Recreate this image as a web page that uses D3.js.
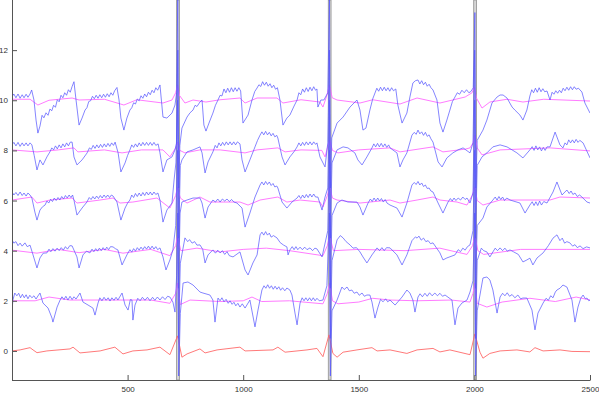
<!doctype html>
<html>
<head>
<meta charset="utf-8">
<script src="https://cdn.jsdelivr.net/npm/d3@7/dist/d3.min.js"></script>
<style>
  body { margin: 0; background: #fff; }
  text { font-family: "Liberation Sans", Arial, sans-serif; }
</style>
</head>
<body>
<svg width="599" height="393"></svg>
<script>
// tick labels
var xTicks = [500, 1000, 1500, 2000, 2500];
var yTicks = [0, 2, 4, 6, 8, 10, 12];

// beat markers (sample ranges of the grey bands)
var beatBands = [[712, 724], [1368, 1380], [1997, 2009]];

// channel offsets
var offsets = [10, 8, 6, 4, 2];

// blue channels: [sample, value relative to offset]
var blue10 = [[0,0.14],[8,0.25],[17,0.1],[26,0.25],[35,0.08],[44,0.22],[52,0.1],[61,0.24],[69,0.12],[78,0.25],[85,0.41],[95,0.01],[104,-0.79],[112,-1.31],[121,-1.03],[130,-0.6],[138,-0.7],[147,-0.5],[156,-0.6],[164,-0.35],[172,-0.42],[180,-0.2],[188,-0.28],[196,0.02],[204,-0.06],[212,0.2],[220,0.1],[228,0.3],[236,0.2],[244,0.42],[252,0.32],[260,0.55],[268,0.74],[277,0.01],[290,-0.99],[303,-0.71],[316,-0.39],[324,-0.3],[332,-0.05],[340,-0.02],[348,0.16],[356,0.06],[364,0.2],[372,0.08],[380,0.22],[388,0.1],[396,0.24],[404,0.12],[412,0.26],[420,0.14],[428,0.3],[436,0.2],[444,0.38],[454,0.51],[463,0.01],[471,-0.71],[484,-1.19],[497,-0.71],[510,-0.39],[518,-0.3],[526,-0.1],[534,-0.15],[542,0.05],[550,-0.02],[558,0.18],[566,0.08],[574,0.25],[582,0.14],[590,0.32],[598,0.22],[606,0.4],[614,0.3],[622,0.5],[630,0.4],[640,0.61],[653,-0.67],[670,-0.71],[692,-0.51],[705,-0.19],
  [712,0.3],[717,4.1],[721,-3.5],[726,-1.8],
  [735,-1.11],[757,-0.67],[770,-0.5],[783,-0.39],[792,-0.2],[800,-0.25],[813,-0.07],[822,0.01],[830,-0.99],[839,-1.23],[852,-0.91],[869,-0.51],[880,-0.2],[891,0.01],[900,0.2],[908,0.17],[917,0.45],[925,0.3],[933,0.48],[941,0.32],[949,0.5],[957,0.34],[965,0.5],[973,0.36],[981,0.5],[989,0.37],[999,-0.91],[1021,-0.59],[1038,0.01],[1050,0.35],[1060,0.49],[1068,0.62],[1076,0.55],[1084,0.74],[1092,0.6],[1100,0.72],[1108,0.56],[1116,0.66],[1124,0.5],[1132,0.6],[1140,0.44],[1148,0.5],[1159,0.01],[1172,-0.99],[1189,-0.71],[1202,-0.59],[1220,-0.23],[1233,0.01],[1241,0.3],[1249,0.22],[1257,0.45],[1265,0.32],[1273,0.5],[1281,0.35],[1289,0.52],[1297,0.38],[1305,0.54],[1313,0.4],[1319,0.45],[1323,-0.27],[1336,0.01],[1349,0.01],
  [1366,0.3],[1373,4.0],[1377,-3.5],[1383,-1.5],
  [1406,-0.91],[1432,-0.67],[1462,-0.27],[1492,0.01],[1505,-0.39],[1518,-1.19],[1531,-1.11],[1548,-0.39],[1560,0.05],[1570,0.29],[1578,0.48],[1586,0.36],[1594,0.52],[1602,0.38],[1610,0.52],[1618,0.38],[1626,0.5],[1634,0.36],[1642,0.5],[1650,0.38],[1660,0.45],[1669,-0.19],[1687,-0.91],[1708,-0.51],[1721,0.13],[1734,0.69],[1745,0.78],[1756,0.81],[1764,0.65],[1772,0.78],[1780,0.62],[1788,0.72],[1796,0.56],[1804,0.64],[1812,0.5],[1821,0.41],[1838,0.01],[1851,-0.91],[1864,-1.27],[1881,-0.79],[1894,-0.39],[1905,-0.05],[1916,0.13],[1926,0.3],[1936,0.24],[1946,0.4],[1956,0.3],[1966,0.42],[1976,0.3],[1985,0.35],
  [1995,0.5],[2002,3.5],[2006,-3.5],[2012,-1.6],
  [2037,-1.19],[2054,-0.79],[2076,-0.11],[2098,0.13],[2111,0.21],[2124,0.21],[2141,0.09],[2163,-0.27],[2175,-0.39],[2197,-0.59],[2210,-0.79],[2227,-0.39],[2240,0.17],[2248,0.42],[2256,0.3],[2264,0.48],[2272,0.32],[2280,0.5],[2288,0.34],[2296,0.46],[2304,0.34],[2314,0.37],[2327,0.01],[2336,0.32],[2344,0.24],[2352,0.38],[2360,0.28],[2368,0.4],[2376,0.3],[2384,0.48],[2392,0.38],[2400,0.52],[2408,0.4],[2416,0.54],[2424,0.42],[2432,0.54],[2440,0.44],[2450,0.48],[2465,0.33],[2478,-0.11],[2500,-0.51]];

var blue8 = [[0,0.22],[8,0.32],[17,0.18],[26,0.32],[35,0.16],[44,0.3],[52,0.18],[61,0.3],[69,0.18],[78,0.3],[86,0.22],[96,-0.2],[108,-0.78],[121,-0.38],[134,-0.58],[151,-0.26],[164,-0.06],[172,0.1],[180,0.02],[188,0.18],[196,0.06],[204,0.22],[212,0.1],[220,0.26],[228,0.14],[236,0.3],[244,0.18],[252,0.33],[260,0.33],[268,-0.26],[281,-0.58],[303,-0.38],[325,-0.10],[335,0.1],[343,0.04],[351,0.2],[359,0.08],[367,0.22],[375,0.1],[383,0.24],[391,0.12],[399,0.26],[407,0.14],[415,0.28],[423,0.16],[431,0.3],[439,0.2],[446,0.33],[459,-0.10],[471,-0.86],[489,-0.50],[500,-0.2],[510,0.02],[518,0.22],[526,0.12],[534,0.26],[542,0.14],[550,0.3],[558,0.18],[566,0.32],[574,0.2],[582,0.32],[590,0.2],[598,0.32],[606,0.2],[614,0.32],[622,0.2],[632,0.26],[640,-0.10],[653,-0.86],[670,-0.38],[692,-0.26],[705,0.02],
  [712,0.3],[717,4.0],[721,-3.5],[728,-0.6],
  [735,-0.38],[757,-0.06],[783,0.02],[813,0.14],[822,-0.10],[835,-0.90],[848,-0.46],[869,-0.06],[879,0.2],[887,0.1],[895,0.3],[903,0.18],[911,0.32],[919,0.2],[927,0.34],[935,0.22],[943,0.34],[951,0.22],[959,0.34],[967,0.22],[975,0.34],[986,0.26],[995,-0.38],[1008,-0.86],[1029,-0.38],[1051,0.14],[1062,0.4],[1073,0.61],[1081,0.74],[1089,0.62],[1097,0.76],[1105,0.62],[1113,0.72],[1121,0.58],[1129,0.68],[1137,0.54],[1145,0.6],[1150,0.49],[1168,-0.26],[1181,-0.58],[1202,-0.26],[1220,-0.05],[1233,0.14],[1241,0.3],[1249,0.18],[1257,0.32],[1265,0.2],[1273,0.34],[1281,0.22],[1289,0.34],[1297,0.22],[1305,0.34],[1313,0.24],[1319,0.30],[1332,-0.26],[1354,-0.66],
  [1366,0.3],[1373,4.0],[1377,-3.5],[1384,-0.5],
  [1406,0.02],[1432,0.14],[1453,0.10],[1483,-0.10],[1496,-0.38],[1514,-0.58],[1535,-0.26],[1557,0.10],[1565,0.26],[1573,0.14],[1581,0.28],[1589,0.14],[1597,0.28],[1605,0.14],[1613,0.26],[1621,0.12],[1629,0.22],[1635,0.10],[1665,-0.10],[1678,-0.66],[1691,-0.38],[1708,-0.10],[1730,0.61],[1740,0.72],[1748,0.64],[1756,0.81],[1764,0.66],[1772,0.74],[1780,0.6],[1788,0.72],[1796,0.56],[1804,0.62],[1812,0.46],[1821,0.33],[1843,-0.46],[1860,-0.66],[1881,-0.30],[1907,-0.10],[1929,0.02],[1951,0.10],[1981,-0.10],
  [1994,0.3],[2001,4.0],[2005,-3.5],[2012,-0.6],
  [2033,-0.26],[2054,-0.10],[2080,0.14],[2111,0.22],[2141,0.14],[2163,0.02],[2184,-0.10],[2210,-0.30],[2240,0.02],[2250,0.15],[2258,0.0],[2266,0.18],[2274,0.02],[2282,0.14],[2290,-0.02],[2298,0.12],[2306,0.0],[2314,0.14],[2327,0.14],[2349,0.73],[2370,0.22],[2383,0.10],[2392,0.3],[2400,0.22],[2408,0.42],[2416,0.3],[2424,0.42],[2432,0.3],[2440,0.44],[2448,0.32],[2456,0.4],[2470,0.30],[2500,-0.30]];

var blue6 = [[0,0.35],[8,0.22],[17,0.32],[26,0.2],[35,0.34],[44,0.2],[52,0.3],[61,0.18],[69,0.3],[78,0.22],[86,0.10],[99,-0.46],[108,-0.78],[121,-0.38],[132,-0.25],[143,-0.18],[151,-0.02],[159,-0.1],[167,0.05],[175,-0.04],[183,0.1],[191,0.0],[199,0.12],[207,0.02],[215,0.16],[223,0.06],[231,0.2],[239,0.1],[247,0.22],[255,0.12],[262,0.22],[268,0.02],[281,-0.58],[303,-0.30],[324,-0.06],[334,0.12],[342,0.04],[350,0.16],[358,0.06],[366,0.18],[374,0.08],[382,0.2],[390,0.1],[398,0.22],[406,0.12],[414,0.22],[422,0.12],[430,0.22],[437,0.18],[454,-0.06],[471,-0.78],[489,-0.30],[500,-0.1],[510,0.02],[518,0.22],[526,0.12],[534,0.28],[542,0.16],[550,0.3],[558,0.18],[566,0.32],[574,0.2],[582,0.34],[590,0.22],[598,0.34],[606,0.22],[614,0.34],[622,0.24],[631,0.30],[640,0.02],[653,-0.86],[670,-0.38],[692,-0.10],[701,0.82],
  [709,1.5],[716,4.0],[720,-3.5],[727,-0.5],
  [735,-0.06],[757,0.02],[783,0.10],[813,0.10],[822,-0.10],[835,-0.70],[848,-0.26],[869,0.02],[880,-0.06],[890,0.06],[900,-0.06],[910,0.06],[920,-0.02],[930,0.06],[940,-0.04],[950,0.04],[960,-0.06],[973,-0.10],[995,-0.30],[1008,-1.06],[1029,-0.50],[1051,0.14],[1073,0.62],[1081,0.74],[1089,0.62],[1097,0.76],[1105,0.64],[1113,0.74],[1121,0.6],[1129,0.68],[1137,0.54],[1145,0.58],[1150,0.50],[1168,-0.06],[1189,-0.30],[1211,-0.06],[1233,0.10],[1241,0.2],[1249,0.08],[1257,0.22],[1265,0.1],[1273,0.24],[1281,0.12],[1289,0.26],[1297,0.14],[1305,0.26],[1313,0.14],[1323,0.14],[1341,-0.38],[1354,0.14],
  [1366,0.5],[1373,4.0],[1377,-3.5],[1384,-0.6],
  [1406,-0.10],[1427,0.02],[1453,-0.06],[1492,-0.06],[1505,-0.26],[1518,-0.58],[1540,-0.10],[1550,0.06],[1558,-0.04],[1566,0.1],[1574,-0.02],[1582,0.1],[1590,-0.02],[1598,0.08],[1606,-0.06],[1614,0.04],[1622,-0.1],[1635,-0.18],[1665,-0.30],[1687,-0.66],[1708,-0.10],[1730,0.62],[1740,0.72],[1748,0.64],[1756,0.76],[1764,0.62],[1772,0.7],[1780,0.56],[1788,0.62],[1796,0.48],[1804,0.5],[1812,0.38],[1821,0.34],[1843,-0.10],[1864,-0.50],[1886,-0.06],[1896,0.08],[1904,-0.02],[1912,0.1],[1920,0.0],[1930,0.1],[1940,0.02],[1950,0.14],[1960,0.04],[1968,0.10],[1981,-0.10],
  [1994,0.3],[2001,4.0],[2005,-3.5],[2012,-1.0],
  [2037,-0.70],[2054,-0.26],[2080,0.02],[2090,0.14],[2098,0.02],[2106,0.16],[2114,0.04],[2122,0.14],[2130,0.0],[2140,0.1],[2154,0.02],[2197,-0.10],[2219,-0.50],[2240,-0.18],[2250,-0.05],[2258,-0.2],[2266,-0.05],[2274,-0.2],[2282,-0.02],[2290,-0.18],[2300,-0.04],[2314,-0.10],[2340,0.34],[2357,0.74],[2379,0.22],[2400,0.42],[2410,0.28],[2418,0.38],[2426,0.24],[2435,0.30],[2445,0.16],[2455,0.22],[2465,0.14],[2487,-0.06],[2500,-0.10]];

var blue4 = [[0,0.43],[8,0.3],[17,0.36],[26,0.2],[35,0.3],[44,0.18],[56,0.31],[66,0.16],[78,0.22],[91,-0.17],[108,-0.69],[121,-0.29],[135,-0.1],[151,-0.09],[160,0.06],[168,-0.04],[177,0.08],[186,-0.02],[195,0.1],[204,0.0],[213,0.12],[222,0.02],[231,0.16],[240,0.06],[250,0.2],[260,0.19],[281,-0.25],[290,-0.69],[307,-0.17],[322,-0.02],[337,-0.09],[346,0.06],[354,-0.04],[362,0.08],[370,-0.02],[378,0.1],[386,0.0],[394,0.12],[402,0.02],[410,0.14],[418,0.04],[426,0.16],[437,0.15],[447,0.08],[458,0.03],[476,-0.57],[497,-0.17],[510,0.04],[518,-0.06],[526,0.08],[534,-0.02],[542,0.12],[550,0.02],[558,0.14],[566,0.04],[574,0.16],[582,0.06],[590,0.18],[598,0.06],[606,0.18],[614,0.06],[622,0.16],[630,0.04],[640,0.11],[653,-0.25],[666,-0.77],[683,-0.37],[696,0.03],
  [708,1.0],[716,4.0],[720,-3.5],[728,-0.5],
  [748,0.51],[760,0.36],[768,0.44],[779,0.30],[790,0.36],[800,0.22],[813,0.23],[825,0.05],[835,-0.49],[848,-0.17],[869,0.03],[880,-0.1],[890,0.02],[900,-0.09],[910,0.0],[920,-0.15],[930,-0.04],[940,-0.2],[956,-0.25],[986,-0.05],[1008,-0.77],[1021,-0.97],[1042,-0.49],[1060,-0.17],[1073,0.63],[1081,0.74],[1089,0.62],[1097,0.76],[1105,0.62],[1113,0.7],[1121,0.54],[1131,0.6],[1146,0.51],[1160,0.32],[1175,0.22],[1189,0.15],[1194,-0.17],[1202,0.03],[1212,0.16],[1220,0.04],[1228,0.16],[1236,0.04],[1246,0.14],[1256,0.04],[1266,0.14],[1276,0.04],[1289,0.11],[1300,0.0],[1310,0.1],[1319,0.07],[1341,-0.25],
  [1366,0.8],[1373,4.0],[1377,-3.5],[1384,-0.4],
  [1406,0.43],[1420,0.6],[1432,0.51],[1445,0.36],[1462,0.23],[1475,0.1],[1490,0.12],[1505,-0.05],[1518,-0.25],[1535,-0.49],[1557,-0.17],[1579,0.11],[1590,0.0],[1600,0.12],[1610,0.0],[1620,0.12],[1635,0.11],[1665,-0.17],[1687,-0.57],[1708,-0.17],[1730,0.4],[1745,0.55],[1752,0.5],[1760,0.58],[1770,0.42],[1780,0.5],[1790,0.36],[1800,0.4],[1810,0.28],[1821,0.31],[1851,-0.09],[1864,-0.37],[1881,-0.29],[1916,-0.17],[1930,0.04],[1940,-0.04],[1950,0.1],[1960,0.02],[1970,0.16],[1981,0.23],
  [1994,0.8],[2001,4.0],[2005,-3.5],[2012,-0.4],
  [2030,0.1],[2040,0.0],[2054,-0.05],[2067,-0.25],[2080,-0.05],[2090,0.1],[2100,0.0],[2111,0.11],[2122,0.0],[2132,0.1],[2142,-0.02],[2154,0.03],[2170,-0.05],[2190,-0.15],[2210,-0.45],[2227,-0.37],[2240,-0.3],[2253,-0.57],[2271,-0.29],[2297,-0.09],[2320,0.2],[2340,0.5],[2357,0.63],[2370,0.4],[2380,0.5],[2390,0.3],[2400,0.36],[2413,0.31],[2425,0.18],[2435,0.24],[2445,0.12],[2457,0.19],[2470,0.08],[2485,0.15],[2500,0.11]];

var blue2 = [[0,-0.37],[4,0.03],[12,0.31],[21,0.2],[29,0.3],[37,0.12],[45,0.26],[53,0.12],[61,0.24],[69,0.08],[77,0.22],[86,0.12],[95,0.2],[104,0.07],[112,0.19],[121,0.31],[134,-0.09],[156,-0.29],[173,-0.69],[177,-0.85],[195,-0.25],[208,0.03],[216,0.16],[225,0.05],[233,0.18],[242,0.03],[251,0.18],[260,0.05],[268,0.16],[277,0.07],[294,0.31],[307,-0.05],[329,-0.17],[350,-0.29],[359,-0.57],[372,-0.09],[380,0.12],[389,0.0],[398,0.14],[407,0.02],[416,0.12],[424,-0.01],[432,0.12],[441,0.02],[450,0.14],[458,0.03],[476,0.31],[489,-0.17],[502,-0.37],[512,0.05],[519,0.03],[523,-0.77],[532,-0.17],[544,0.1],[554,0.0],[564,0.14],[575,0.02],[586,0.14],[597,0.0],[608,0.14],[618,0.02],[629,0.15],[640,0.03],[651,0.16],[662,0.05],[673,0.18],[683,0.15],[696,-0.05],[705,-0.45],
  [712,1.0],[717,3.5],[721,-3.0],[728,-0.5],
  [740,0.71],[761,0.75],[783,0.63],[813,0.35],[826,0.31],[856,0.23],[869,0.03],[878,-0.85],[891,0.11],[900,0.0],[908,0.12],[917,-0.04],[926,0.06],[935,-0.1],[943,0.0],[952,-0.14],[960,-0.06],[968,-0.2],[977,-0.1],[986,-0.25],[996,-0.12],[1008,-0.29],[1029,0.03],[1051,-1.04],[1064,-0.37],[1081,0.43],[1090,0.6],[1098,0.5],[1106,0.64],[1114,0.5],[1122,0.6],[1130,0.46],[1138,0.58],[1146,0.46],[1154,0.56],[1162,0.42],[1170,0.52],[1180,0.4],[1189,0.51],[1202,0.43],[1211,0.23],[1224,-0.49],[1233,-0.96],[1246,-0.09],[1255,0.12],[1263,0.0],[1271,0.12],[1279,0.0],[1287,0.12],[1295,0.0],[1303,0.12],[1311,0.0],[1319,0.1],[1329,0.0],[1345,0.03],
  [1362,0.6],[1373,3.5],[1377,-3.0],[1384,-0.4],
  [1406,0.03],[1427,0.55],[1437,0.45],[1449,0.55],[1459,0.4],[1470,0.43],[1480,0.3],[1492,0.35],[1502,0.22],[1514,0.31],[1524,0.18],[1535,0.23],[1548,0.23],[1557,-0.05],[1570,-0.69],[1583,-0.25],[1594,0.06],[1605,-0.04],[1616,0.08],[1625,-0.04],[1635,0.03],[1657,-0.17],[1687,0.15],[1708,0.43],[1721,0.31],[1734,0.03],[1743,-0.45],[1756,0.15],[1765,0.28],[1775,0.16],[1786,0.3],[1796,0.18],[1806,0.32],[1817,0.2],[1829,0.31],[1840,0.2],[1851,0.3],[1862,0.18],[1873,0.23],[1903,0.03],[1916,-0.96],[1929,-0.29],[1946,-0.09],[1968,0.03],[1981,0.35],
  [1994,0.8],[2001,3.5],[2005,-3.0],[2012,-0.4],
  [2037,0.91],[2054,0.95],[2067,0.83],[2080,0.43],[2098,-0.49],[2111,0.15],[2122,0.3],[2132,0.2],[2142,0.32],[2152,0.18],[2163,0.25],[2175,0.12],[2188,0.23],[2200,0.08],[2210,0.11],[2227,0.11],[2249,-0.37],[2262,-1.16],[2275,-0.49],[2297,-0.09],[2310,0.1],[2320,0.02],[2330,0.2],[2340,0.12],[2350,0.35],[2357,0.43],[2370,0.5],[2383,0.63],[2400,0.55],[2422,0.03],[2435,-0.85],[2448,-0.25],[2460,0.1],[2470,0.23],[2480,0.08],[2487,0.11],[2495,0.0],[2500,0.03]];

// magenta (smoothed) channels: [sample, value relative to offset]
var mag10 = [[0,0.04],[78,0.04],[112,-0.19],[160,0.0],[260,0.09],[290,0.01],[400,0.04],[484,-0.19],[540,0.02],[653,-0.11],[692,0.01],[708,0.3],[716,0.61],[724,0.2],[748,-0.11],[783,0.01],[839,-0.07],[900,0.02],[986,0.09],[1008,-0.11],[1060,0.09],[1146,0.09],[1172,-0.11],[1250,0.02],[1332,-0.07],[1345,-0.27],[1362,0.2],[1373,0.61],[1385,0.1],[1406,0.01],[1505,-0.11],[1560,0.02],[1678,-0.15],[1752,0.09],[1851,-0.11],[1960,0.13],[1990,0.3],[2000,0.53],[2008,0.1],[2033,-0.31],[2067,-0.07],[2141,0.04],[2210,-0.07],[2300,0.04],[2500,-0.03]];
var mag8 = [[0,0.02],[108,-0.06],[200,0.02],[268,0.10],[285,-0.06],[400,0.02],[476,-0.10],[560,0.02],[653,0.02],[683,-0.26],[708,0.1],[716,0.33],[726,0.0],[748,-0.10],[813,0.02],[900,0.02],[1008,-0.10],[1060,0.02],[1150,0.10],[1181,-0.06],[1250,0.02],[1340,0.0],[1354,-0.26],[1364,0.1],[1374,0.41],[1386,0.0],[1410,-0.10],[1500,0.02],[1635,0.10],[1678,-0.06],[1821,0.14],[1864,-0.06],[1960,0.05],[1981,0.10],[1994,0.3],[2002,0.61],[2012,0.1],[2033,-0.18],[2111,0.02],[2327,0.10],[2500,-0.02]];
var mag6 = [[0,0.02],[86,0.14],[108,-0.10],[164,0.02],[260,0.10],[281,-0.10],[381,0.02],[437,0.10],[467,-0.10],[523,-0.06],[627,0.10],[683,-0.30],[708,0.2],[716,0.54],[728,0.1],[757,-0.10],[813,0.14],[856,-0.06],[986,-0.06],[1021,-0.18],[1073,0.02],[1150,0.14],[1189,-0.06],[1246,0.02],[1332,-0.06],[1345,-0.26],[1364,0.2],[1374,0.54],[1386,0.1],[1406,0.02],[1505,-0.10],[1635,0.02],[1678,-0.10],[1752,0.02],[1821,0.14],[1851,0.02],[1925,-0.06],[1968,-0.18],[1990,0.2],[2002,0.54],[2012,0.0],[2037,-0.18],[2111,0.02],[2327,0.02],[2370,0.14],[2500,0.10]];
var mag4 = [[0,0.02],[108,-0.10],[200,0.05],[290,-0.08],[400,0.05],[480,-0.1],[600,0.05],[683,-0.2],[708,0.2],[716,0.6],[730,0.0],[800,0.1],[900,-0.05],[1000,0.05],[1100,0.1],[1200,0.0],[1345,-0.2],[1364,0.2],[1374,0.6],[1390,0.0],[1500,0.05],[1700,0.0],[1850,0.1],[1968,-0.15],[1992,0.2],[2002,0.6],[2015,0.0],[2040,-0.15],[2200,0.05],[2400,0.05],[2500,0.05]];
var mag2 = [[0,0.0],[100,0.0],[160,0.15],[250,0.03],[400,0.03],[600,0.03],[683,-0.1],[708,0.3],[716,0.71],[728,-0.15],[770,0.03],[900,-0.03],[1000,0.0],[1038,0.15],[1080,-0.03],[1200,0.0],[1345,-0.12],[1364,0.3],[1374,0.71],[1386,0.0],[1410,-0.12],[1500,-0.05],[1560,0.1],[1635,0.03],[1750,0.0],[1900,0.03],[1981,-0.05],[1994,0.3],[2002,0.71],[2012,-0.1],[2054,-0.25],[2120,-0.05],[2240,0.1],[2350,-0.03],[2440,0.15],[2500,0.03]];

// red reference channel at 0
var red0 = [[0,0.0],[35,0.04],[78,0.13],[91,0.04],[108,-0.07],[151,0.0],[251,0.08],[264,0.15],[294,-0.08],[381,0.0],[445,0.15],[480,-0.12],[523,0.0],[584,0.04],[640,0.15],[683,-0.15],[716,0.6],[735,-0.25],[757,-0.12],[813,0.08],[835,-0.08],[887,0.04],[986,0.15],[1008,0.0],[1129,0.04],[1150,0.15],[1181,-0.05],[1276,0.04],[1319,0.1],[1345,-0.23],[1371,0.64],[1388,-0.1],[1406,-0.25],[1432,-0.05],[1492,0.04],[1557,0.13],[1579,0.0],[1635,0.04],[1708,-0.1],[1752,0.04],[1821,0.1],[1851,-0.04],[1894,0.04],[1981,-0.15],[2002,0.68],[2024,-0.05],[2037,-0.29],[2067,-0.1],[2111,0.0],[2184,0.04],[2240,-0.04],[2262,0.13],[2297,0.0],[2370,0.04],[2422,-0.02],[2500,-0.03]];

var blueSeries = [blue10, blue8, blue6, blue4, blue2];
var magSeries = [mag10, mag8, mag6, mag4, mag2];

var plotLeft = 12, plotRight = 590, plotTop = 0, plotBottom = 380;

var x = d3.scaleLinear().domain([0, 2500]).range([plotLeft, plotRight]);
var y = d3.scaleLinear().domain([-1.16, 14.0]).range([plotBottom, plotTop]);

var svg = d3.select("svg");

svg.append("defs").append("clipPath").attr("id", "plotclip")
    .append("rect")
    .attr("x", plotLeft).attr("y", plotTop)
    .attr("width", plotRight - plotLeft).attr("height", plotBottom - plotTop);

var plot = svg.append("g").attr("clip-path", "url(#plotclip)");

// grey beat bands
plot.selectAll("rect.band")
    .data(beatBands)
    .enter().append("rect")
    .attr("class", "band")
    .attr("x", function(d) { return x(d[0]); })
    .attr("y", plotTop)
    .attr("width", function(d) { return x(d[1]) - x(d[0]); })
    .attr("height", plotBottom - plotTop)
    .attr("fill", "#d6d6d6")
    .attr("stroke", "#909090")
    .attr("stroke-width", 0.8);

function lineAt(off) {
    return d3.line()
        .x(function(d) { return x(d[0]); })
        .y(function(d) { return y(off + d[1]); });
}

plot.append("path")
    .attr("d", lineAt(0)(red0))
    .attr("fill", "none")
    .attr("stroke", "#ff6a6a")
    .attr("stroke-width", 0.9);

magSeries.forEach(function(s, i) {
    plot.append("path")
        .attr("d", lineAt(offsets[i])(s))
        .attr("fill", "none")
        .attr("stroke", "#ff6cff")
        .attr("stroke-width", 0.9);
});

blueSeries.forEach(function(s, i) {
    plot.append("path")
        .attr("d", lineAt(offsets[i])(s))
        .attr("fill", "none")
        .attr("stroke", "#5555ff")
        .attr("stroke-opacity", 0.8)
        .attr("stroke-width", 0.9);
});

// axes
var xAxis = d3.axisBottom(x).tickValues(xTicks).tickFormat(d3.format("d")).tickSize(-5).tickPadding(6);
var yAxis = d3.axisLeft(y).tickValues(yTicks).tickFormat(d3.format("d")).tickSize(-5).tickPadding(4);

var gx = svg.append("g").attr("transform", "translate(0," + plotBottom + ")").call(xAxis);
var gy = svg.append("g").attr("transform", "translate(" + plotLeft + ",0)").call(yAxis);

[gx, gy].forEach(function(g) {
    g.select(".domain").attr("stroke", "#555").attr("stroke-width", 1);
    g.selectAll(".tick line").attr("stroke", "#555");
    g.selectAll(".tick text")
        .attr("fill", "#333")
        .attr("font-size", 8)
        .attr("font-family", "Liberation Sans, Arial, sans-serif");
});
gy.select(".domain").attr("d", "M0.5," + plotTop + "V" + (plotBottom + 0.5));
gx.select(".domain").attr("d", "M" + plotLeft + ",0.5H" + (plotRight + 0.5));
gy.selectAll(".tick text").attr("x", -4);
</script>
</body>
</html>
